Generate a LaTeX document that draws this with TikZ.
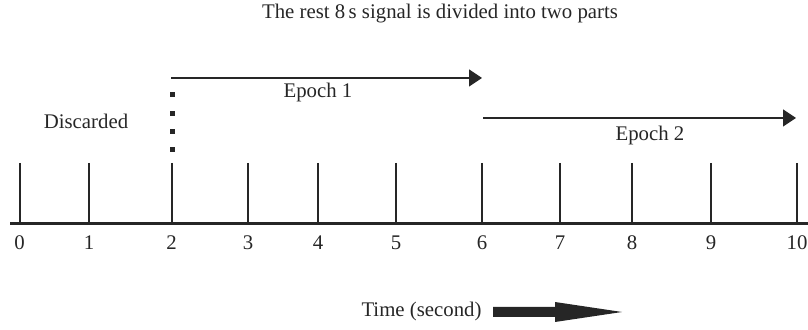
\documentclass[tikz,border=0pt]{standalone}
\usepackage{fontspec}
\setmainfont{Liberation Serif}
\usetikzlibrary{arrows.meta, positioning}

\begin{document}
\begin{tikzpicture}[x=0.5pt, y=-0.5pt,
        every node/.style={font=\fontsize{10.4}{12}\selectfont, text=black!85},
        epoch/.style={line width=0.65pt, black!85, -{Triangle[length=6.5pt, width=8.5pt]}},
        tick/.style={line width=1pt, black!85},
        axisline/.style={line width=1.5pt, black!85}]

        \useasboundingbox (0,0) rectangle (808,330);

        %=====================
        % Title
        %=====================
        \node (title) at (440,14) {The rest 8\,s signal is divided into two parts};

        %=====================
        % Time axis with ticks and labels
        %=====================
        \draw[axisline] (10,224) -- (808,224);
        \foreach \x [count=\i from 0] in {19.6,89,171.6,248,318,396,482,560,632,711,797}
        {
            \draw[tick] (\x,163) -- (\x,224);
            \node (lab\i) at (\x,243) {\i};
        }

        %=====================
        % Discarded part
        %=====================
        \node (disc) at (86,121) {Discarded};
        \foreach \y in {95,113.5,131.5,150}
            \fill[black!85] (169.5,\y-2.5) rectangle (174.5,\y+2.5);

        %=====================
        % Epochs
        %=====================
        \coordinate (e1s) at (171,78);
        \coordinate (e1e) at (482,78);
        \draw[epoch] (e1s) -- (e1e);
        \node (ep1) at (318,92.5) {Epoch 1};

        \coordinate (e2s) at (483,118);
        \coordinate (e2e) at (796,118);
        \draw[epoch] (e2s) -- (e2e);
        \node (ep2) at (650,136) {Epoch 2};

        %=====================
        % Time direction
        %=====================
        \node (time) at (421.5,312) {Time (second)};
        \fill[black!85] (493,307) -- (555,307) -- (555,302) -- (622,312)
        -- (555,322) -- (555,317) -- (493,317) -- cycle;

    \end{tikzpicture}
\end{document}
